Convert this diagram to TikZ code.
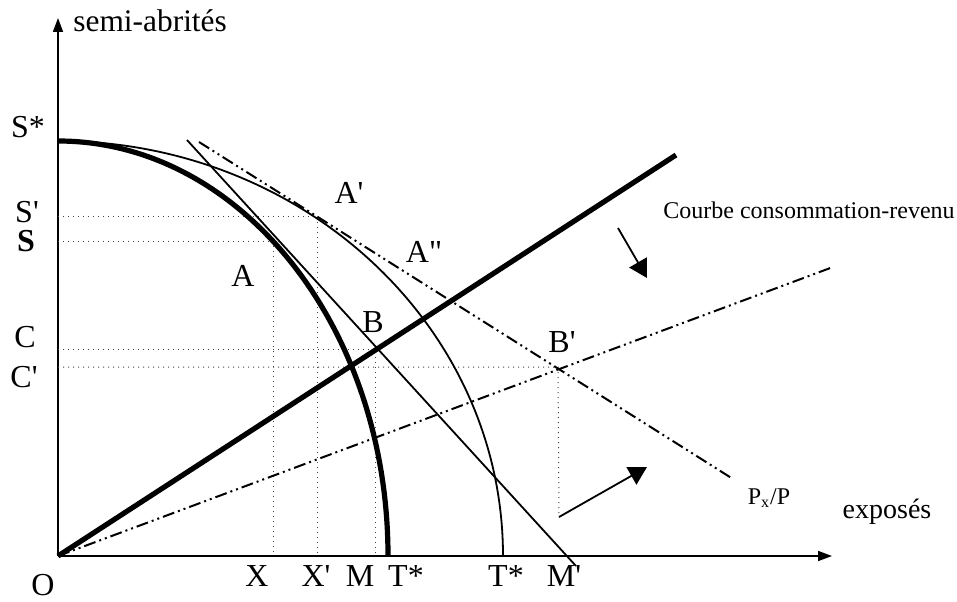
\documentclass[tikz,border=0pt]{standalone}
\usepackage{fontspec}
\setmainfont{Liberation Serif}
\usetikzlibrary{arrows.meta}

\begin{document}
\begin{tikzpicture}[
  x=0.5pt, y=0.5pt,
  axis/.style={line width=0.8pt},
  frontier/.style={line width=2.6pt},
  thinline/.style={line width=0.9pt},
  guide/.style={dotted, line width=0.5pt, black!75},
  dashdot/.style={line width=1pt, dash pattern=on 6pt off 2pt on 1pt off 2pt on 1pt off 2pt},
  lbl/.style={inner sep=0pt, font=\fontsize{16}{19}\selectfont},
  small/.style={inner sep=0pt, font=\fontsize{12}{14}\selectfont},
  moveto/.style={line width=0.9pt, -{Triangle[length=9pt, width=10pt]}},
  >={Triangle[length=7pt, width=5pt]}
]
\useasboundingbox (0,0) rectangle (957,601);

% points
\coordinate (O) at (58,45);
\coordinate (ytip) at (58,583);
\coordinate (xtip) at (832,45);
\coordinate (Stop) at (58,460);
\coordinate (budA) at (187,461);
\coordinate (budB) at (576,35);
\coordinate (iccEnd) at (676,446);
\coordinate (icc2End) at (833,334);
\coordinate (priceA) at (199,459);
\coordinate (priceB) at (733,122);
\coordinate (pA) at (273,360);
\coordinate (pA1) at (317,385);
\coordinate (pB) at (375,252);
\coordinate (pB1) at (558,234);
\coordinate (arrStart) at (559,84);

% axes
\draw[axis, ->] (O) -- (ytip);
\draw[axis, ->] (O) -- (xtip);
\node[lbl, anchor=base west, font=\fontsize{15.7}{18}\selectfont] (ylab) at (73,569) {semi-abrités};
\node[lbl, font=\fontsize{14}{17}\selectfont] (xlab) at (887,89) {exposés};
\node[lbl] (orig) at (43,16) {O};

% guides
\draw[guide] (58,385) -- (pA1) -- (317,45);
\draw[guide] (58,360) -- (pA) -- (273,45);
\draw[guide] (58,252) -- (pB) -- (375,45);
\draw[guide] (58,234) -- (pB1) -- (arrStart);

% frontiers
\draw[frontier] (Stop) arc[start angle=90, end angle=0, x radius=330, y radius=415];
\draw[thinline] (Stop) arc[start angle=90, end angle=0, x radius=445, y radius=415];

% budget and price lines
\draw[thinline] (budA) -- (budB);
\draw[dashdot] (priceA) -- (priceB);

% consumption-income curves
\draw[frontier] (O) -- (iccEnd);
\draw[dashdot] (O) -- (icc2End);

% shifts
\draw[moveto] (618,373) -- (647,323);
\draw[moveto] (arrStart) -- (647,134);

% labels
\node[lbl] (sstar) at (28,474) {S*};
\node[lbl] (sprime) at (27,389) {S\textquotesingle};
\node[lbl, font=\fontsize{16}{19}\selectfont\bfseries] (slab) at (26,360) {S};
\node[lbl] (clab) at (25,264) {C};
\node[lbl] (cprime) at (24,224) {C\textquotesingle};
\node[lbl] (alab) at (243,325) {A};
\node[lbl] (aprime) at (349,408) {A\textquotesingle};
\node[lbl] (asecond) at (424,349) {A\textquotedbl};
\node[lbl] (blab) at (373,279) {B};
\node[lbl] (bprime) at (562,259) {B\textquotesingle};
\node[lbl] (xl) at (257,25) {X};
\node[lbl] (xprime) at (316,25) {X\textquotesingle};
\node[lbl] (ml) at (360,25) {M};
\node[lbl] (tstar) at (406,25) {T*};
\node[lbl] (tstar2) at (506,25) {T*};
\node[lbl] (mprime) at (564,25) {M\textquotesingle};
\node[small, anchor=west] (icclab) at (663,391) {Courbe consommation-revenu};
\node[small] (pricelab) at (769,103) {P\textsubscript{x}/P};

\end{tikzpicture}
\end{document}
